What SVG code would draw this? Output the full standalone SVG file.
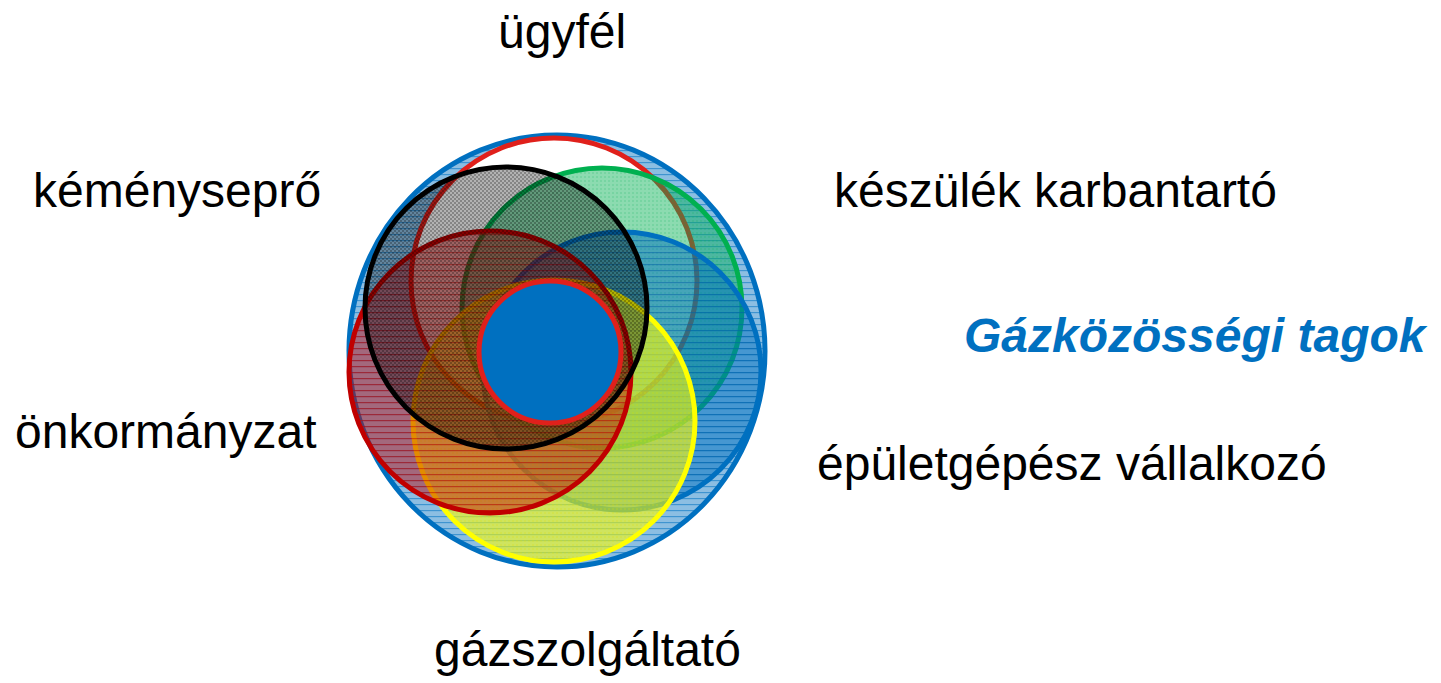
<svg xmlns="http://www.w3.org/2000/svg" width="1441" height="683" viewBox="0 0 1441 683">
  <defs>
    <pattern id="hBlue" patternUnits="userSpaceOnUse" width="6" height="6">
      <rect width="6" height="6" fill="#0070C0" fill-opacity="0.45"/>
      <rect width="6" height="1.2" fill="#0070C0" fill-opacity="0.55"/>
    </pattern>
    <pattern id="hRed" patternUnits="userSpaceOnUse" width="6" height="6">
      <rect width="6" height="6" fill="#C00000" fill-opacity="0.45"/>
      <rect width="6" height="1.2" fill="#C00000" fill-opacity="0.5"/>
    </pattern>
    <pattern id="hBlue2" patternUnits="userSpaceOnUse" width="6" height="6">
      <rect width="6" height="6" fill="#0070C0" fill-opacity="0.5"/>
      <rect width="6" height="1.2" fill="#0060A8" fill-opacity="0.5"/>
    </pattern>
    <pattern id="chkGray" patternUnits="userSpaceOnUse" width="4" height="4">
      <rect width="4" height="4" fill="#000000" fill-opacity="0.3"/>
      <rect width="2" height="2" fill="#000000" fill-opacity="0.25"/>
      <rect x="2" y="2" width="2" height="2" fill="#000000" fill-opacity="0.25"/>
    </pattern>
    <pattern id="chkGreen" patternUnits="userSpaceOnUse" width="4" height="4">
      <rect width="4" height="4" fill="#00B050" fill-opacity="0.45"/>
      <rect width="2" height="2" fill="#00B050" fill-opacity="0.15"/>
    </pattern>
    <pattern id="chkYellow" patternUnits="userSpaceOnUse" width="4" height="4">
      <rect width="4" height="4" fill="#FFFF00" fill-opacity="0.58"/>
      <rect width="2" height="2" fill="#E0E000" fill-opacity="0.2"/>
    </pattern>
  </defs>
  <style>
    .lbl { font-family: "Liberation Sans", Arial, sans-serif; font-size: 48px; fill: #000000; }
    .title { font-family: "Liberation Sans", Arial, sans-serif; font-size: 48px; font-weight: bold; font-style: italic; fill: #0070C0; }
  </style>
  <rect width="1441" height="683" fill="#FFFFFF"/>

  <g id="outer">
    <ellipse cx="557" cy="351" rx="208" ry="216" fill="url(#hBlue)" stroke="#0070C0" stroke-width="5"/>
  </g>
  <g id="node-ugyfel-circle">
    <circle cx="554" cy="281" r="143" fill="#FFFFFF" stroke="#E0201B" stroke-width="5"/>
  </g>
  <g id="node-keszulek-circle">
    <circle cx="602" cy="308" r="140" fill="url(#chkGreen)" stroke="#00B050" stroke-width="5"/>
  </g>
  <g id="node-epulet-circle">
    <circle cx="622" cy="371" r="139" fill="url(#hBlue2)" stroke="#0070C0" stroke-width="5"/>
  </g>
  <g id="node-gaz-circle">
    <circle cx="554" cy="421" r="141" fill="url(#chkYellow)" stroke="#FFFF00" stroke-width="5"/>
  </g>
  <g id="node-onkorm-circle">
    <circle cx="490" cy="372" r="141" fill="url(#hRed)" stroke="#C00000" stroke-width="5"/>
  </g>
  <g id="node-kemeny-circle">
    <circle cx="506" cy="308" r="141" fill="url(#chkGray)" stroke="#000000" stroke-width="5"/>
  </g>
  <g id="center">
    <circle cx="550" cy="352" r="71" fill="#0070C0" stroke="#E0201B" stroke-width="5"/>
  </g>

  <g id="connectors"></g>

  <g id="labels">
    <text class="lbl" x="498" y="48">ügyfél</text>
    <text class="lbl" x="33" y="207">kéményseprő</text>
    <text class="lbl" x="834" y="207">készülék karbantartó</text>
    <text class="title" x="964" y="352">Gázközösségi tagok</text>
    <text class="lbl" x="15" y="448">önkormányzat</text>
    <text class="lbl" x="817" y="480">épületgépész vállalkozó</text>
    <text class="lbl" x="434" y="666">gázszolgáltató</text>
  </g>
</svg>
